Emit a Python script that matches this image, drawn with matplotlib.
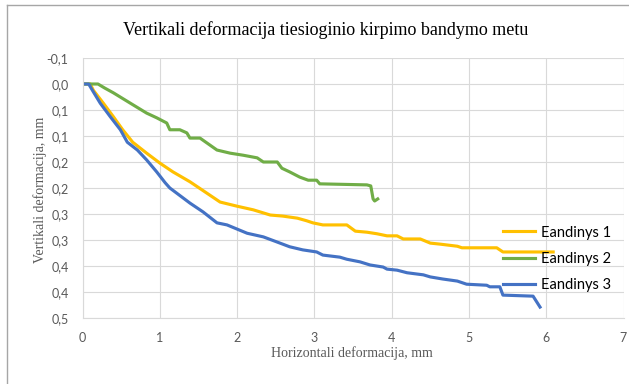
import numpy as np
import matplotlib
matplotlib.use('Agg')
import matplotlib.pyplot as plt
from matplotlib.lines import Line2D

# horizontal deformation, mm / vertical deformation, mm
x1 = [0.0, 0.10, 0.14, 0.27, 0.40, 0.52, 0.65, 0.83, 1.00, 1.17, 1.39, 1.61, 1.78, 2.00,
      2.21, 2.43, 2.59, 2.78, 2.90, 2.98, 3.11, 3.42, 3.53, 3.68, 3.81, 3.94, 4.07, 4.15,
      4.37, 4.50, 4.63, 4.85, 4.91, 5.36, 5.44, 6.09]
y1 = [0.0, 0.0, 0.012, 0.037, 0.063, 0.088, 0.112, 0.133, 0.152, 0.169, 0.188, 0.210, 0.227, 0.235,
      0.242, 0.252, 0.254, 0.258, 0.263, 0.267, 0.271, 0.271, 0.283, 0.285, 0.288, 0.292, 0.292, 0.298,
      0.298, 0.306, 0.308, 0.312, 0.315, 0.315, 0.323, 0.323]

x2 = [0.0, 0.20, 0.29, 0.40, 0.62, 0.83, 0.96, 1.09, 1.13, 1.26, 1.35, 1.39, 1.52, 1.74,
      1.91, 2.08, 2.26, 2.34, 2.52, 2.58, 2.68, 2.81, 2.92, 3.03, 3.07, 3.68, 3.73, 3.76,
      3.78, 3.82]
y2 = [0.0, 0.0, 0.008, 0.017, 0.037, 0.056, 0.065, 0.075, 0.088, 0.088, 0.094, 0.104, 0.104, 0.127,
      0.133, 0.137, 0.142, 0.150, 0.150, 0.162, 0.169, 0.179, 0.185, 0.185, 0.192, 0.194, 0.196, 0.221,
      0.225, 0.221]

x3 = [0.0, 0.08, 0.14, 0.23, 0.36, 0.49, 0.58, 0.71, 0.83, 0.96, 1.07, 1.13, 1.39, 1.56,
      1.74, 1.87, 2.00, 2.13, 2.34, 2.52, 2.68, 2.85, 3.03, 3.11, 3.33, 3.42, 3.59, 3.72,
      3.89, 3.94, 4.07, 4.20, 4.41, 4.50, 4.66, 4.85, 4.97, 5.23, 5.27, 5.40, 5.44, 5.83,
      5.92]
y3 = [0.0, 0.0, 0.015, 0.037, 0.063, 0.088, 0.112, 0.127, 0.146, 0.169, 0.190, 0.200, 0.229, 0.246,
      0.267, 0.271, 0.279, 0.287, 0.294, 0.304, 0.313, 0.319, 0.323, 0.329, 0.333, 0.337, 0.342, 0.348,
      0.352, 0.356, 0.358, 0.363, 0.367, 0.371, 0.375, 0.379, 0.385, 0.387, 0.390, 0.390, 0.406, 0.408,
      0.429]

series_names = ['Eandinys 1', 'Eandinys 2', 'Eandinys 3']
series_colors = ['#FFC000', '#70AD47', '#4472C4']

x_ticks = [0, 1, 2, 3, 4, 5, 6, 7]
y_ticks = [-0.05, 0.0, 0.05, 0.10, 0.15, 0.20, 0.25, 0.30, 0.35, 0.40, 0.45]
y_tick_labels = ['-0,1', '0,0', '0,1', '0,1', '0,2', '0,2', '0,3', '0,3', '0,4', '0,4', '0,5']

fig = plt.figure(figsize=(6.29, 3.84), dpi=100)
ax = fig.add_axes([82.5 / 629, 1 - 318 / 384, (623.5 - 82.5) / 629, (318 - 58) / 384])

for xs, ys, name, col in zip([x1, x2, x3], [y1, y2, y3], series_names, series_colors):
    ax.plot(xs, ys, color=col, lw=2.25, label=name, solid_joinstyle='round')

ax.set_xlim(0, 7)
ax.set_ylim(0.45, -0.05)
ax.set_xticks(x_ticks)
ax.set_xticklabels([str(t) for t in x_ticks])
ax.set_yticks(y_ticks)
ax.set_yticklabels(y_tick_labels)
ax.tick_params(length=0, pad=10, labelsize=9, labelcolor='#595959')
for lab in ax.get_xticklabels() + ax.get_yticklabels():
    lab.set_family('Lato')

ax.grid(True, color='#d9d9d9', lw=0.8)
ax.set_axisbelow(True)
for s in ax.spines.values():
    s.set_visible(False)
ax.spines['bottom'].set_visible(True)
ax.spines['bottom'].set_color('#d9d9d9')
ax.spines['left'].set_visible(True)
ax.spines['left'].set_color('#d9d9d9')

fig.text(326 / 629, 1 - 30 / 384, 'Vertikali deformacija tiesioginio kirpimo bandymo metu',
         ha='center', va='center', family='Liberation Serif', fontsize=13, color='#000000')
fig.text(352 / 629, 1 - 353 / 384, 'Horizontali deformacija, mm', ha='center', va='center',
         family='Liberation Serif', fontsize=10, color='#595959')
fig.text(40 / 629, 1 - 190 / 384, 'Vertikali deformacija, mm', ha='center', va='center',
         rotation=90, family='Liberation Serif', fontsize=10, color='#595959')

leg = ax.legend(loc='center left', bbox_to_anchor=(503 / 629, 1 - 259 / 384),
                bbox_transform=fig.transFigure, frameon=False, borderpad=0, borderaxespad=0,
                handlelength=2.2, handletextpad=0.4, labelspacing=0.85,
                prop={'family': 'Lato', 'size': 10.5})

# chart area border (top and left edges only)
fig.add_artist(Line2D([7 / 629, 1], [1 - 5 / 384, 1 - 5 / 384], color='#a6a6a6', lw=1))
fig.add_artist(Line2D([7 / 629, 7 / 629], [0, 1 - 5 / 384], color='#a6a6a6', lw=1))

fig.savefig('out.png', dpi=100)
